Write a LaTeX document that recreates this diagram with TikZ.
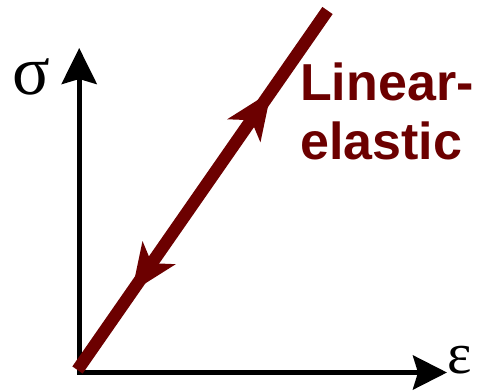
\documentclass[tikz,border=0pt]{standalone}
\usepackage{fontspec}
\newfontfamily\labelfont{Liberation Sans}
\newfontfamily\greekfont{Liberation Serif}
\usepackage{tikz}
\usetikzlibrary{arrows.meta, positioning, calc, decorations.markings}
\definecolor{maroon}{RGB}{108,0,0}

\begin{document}
\begin{tikzpicture}[x=1pt, y=1pt,
    axis/.style={line width=5pt, miter limit=10,
      {Stealth[length=36pt, width=35pt, inset=5pt]}-{Stealth[length=34pt, width=34pt, inset=5pt]}},
    curve/.style={maroon, line width=12.5pt, postaction={decorate},
      decoration={markings,
        mark=at position 0.775 with {\arrow{Stealth[length=47pt, width=39pt, inset=12pt]}},
        mark=at position 0.217 with {\arrowreversed{Stealth[length=47pt, width=39pt, inset=12pt]}}}}]
  \useasboundingbox (0,0) rectangle (479,391);

  % Axes
  \coordinate (O) at (79.2,18.5);
  \coordinate (ytip) at (79.2,343);
  \coordinate (xtip) at (447,18.5);
  \draw[axis] (ytip) -- (O) -- (xtip);
  \node[font=\greekfont\fontsize{70}{70}\selectfont] (sig) at (31,314) {σ};
  \node[font=\greekfont\fontsize{58}{58}\selectfont, anchor=west] (eps) at (444,31) {ε};

  % Loading and unloading path
  \coordinate (start) at (77.5,21);
  \coordinate (end) at (327.5,380.5);
  \draw[curve] (start) -- (end);

  % Label
  \node[maroon, font=\labelfont\bfseries\fontsize{52}{59}\selectfont, anchor=base west, inner sep=0pt]
    (lin) at (300,290) {Linear-};
  \node[maroon, font=\labelfont\bfseries\fontsize{52}{59}\selectfont, anchor=base west, inner sep=0pt]
    (ela) at (300,231) {elastic};
\end{tikzpicture}
\end{document}
